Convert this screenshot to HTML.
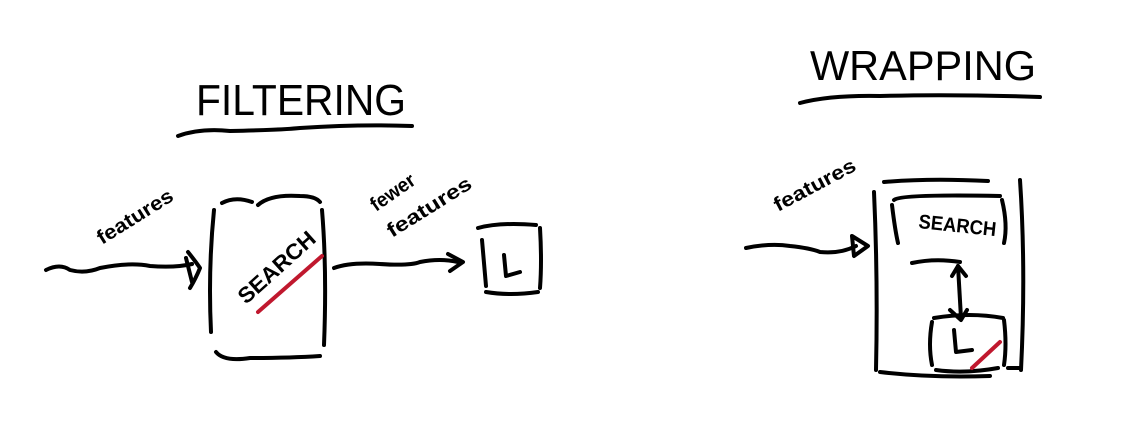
<!DOCTYPE html>
<html><head><meta charset="utf-8"><style>
html,body{margin:0;padding:0;background:#fff;}
svg{display:block}
text{font-family:"Liberation Sans",sans-serif;fill:#000;}
</style></head><body>
<svg width="1122" height="432" viewBox="0 0 1122 432" xmlns="http://www.w3.org/2000/svg">
<g fill="none" stroke="#000" stroke-width="4" stroke-linecap="round" stroke-linejoin="round">
<path d="M178 136 Q200 128 230 131 Q280 130 300 128 Q360 124 412 126"/>
<path d="M800 103 Q830 95 880 96 Q950 94 1040 97"/>
<path d="M46 270 Q60 263 70 270 Q85 274 100 268 Q130 262 150 266 Q175 268 192 264"/>
<path d="M188 252 Q196 262 200 268 Q196 278 190 288"/>
<path d="M186 258 L192 282"/>
<path d="M214 210 Q208 270 211 332"/>
<path d="M222 203 Q235 196 252 202"/>
<path d="M258 205 Q270 194 300 196 Q315 196 320 202"/>
<path d="M322 210 Q327 270 324 345"/>
<path d="M216 352 Q224 362 250 358 Q290 358 320 356"/>
<path d="M334 268 Q350 262 380 264 Q410 266 420 262 Q440 258 458 262"/>
<path d="M448 254 L463 262 L450 271"/>
<path d="M478 228 Q500 222 536 225"/>
<path d="M482 240 L486 286"/>
<path d="M540 228 Q542 262 540 288"/>
<path d="M486 292 Q510 296 538 292"/>
<path d="M504 255 L506 276 L520 272"/>
<path d="M746 248 Q770 243 790 246 Q810 248 820 252 Q840 254 856 246"/>
<path d="M852 236 L868 246 L854 256 Z"/>
<path d="M874 192 Q878 280 876 370"/>
<path d="M884 182 Q930 178 988 181"/>
<path d="M1020 180 Q1026 270 1021 370"/>
<path d="M880 372 Q930 378 990 376"/>
<path d="M1008 368 L1020 368"/>
<path d="M894 200 Q900 194 1000 196"/>
<path d="M892 205 Q895 230 898 243"/>
<path d="M1002 200 Q1008 225 1004 243"/>
<path d="M912 263 Q935 258 960 262"/>
<path d="M958 266 L961 318"/>
<path d="M952 276 L958 266 L966 276"/>
<path d="M950 310 L961 320 L967 310"/>
<path d="M932 322 Q928 345 932 365"/>
<path d="M934 318 Q970 312 1003 318"/>
<path d="M1004 320 Q1007 345 1004 365"/>
<path d="M936 370 Q965 374 998 368"/>
<path d="M954 330 L956 352 L972 350"/>
</g>
<g stroke="#c0182e" stroke-width="4" stroke-linecap="round" fill="none">
<path d="M258 312 L322 256"/>
<path d="M972 368 L1000 342"/>
</g>
<text x="196" y="115" font-size="44" textLength="210" lengthAdjust="spacingAndGlyphs">FILTERING</text>
<text x="810" y="80" font-size="42" textLength="226" lengthAdjust="spacingAndGlyphs">WRAPPING</text>
<text transform="translate(102 245) rotate(-32)" font-size="20" font-weight="bold" textLength="86" lengthAdjust="spacingAndGlyphs">features</text>
<text transform="translate(246 305) rotate(-42)" font-size="22" font-weight="bold" textLength="96" lengthAdjust="spacingAndGlyphs">SEARCH</text>
<text transform="translate(376 212) rotate(-35)" font-size="20" font-weight="bold" textLength="50" lengthAdjust="spacingAndGlyphs">fewer</text>
<text transform="translate(392 238) rotate(-32)" font-size="20" font-weight="bold" textLength="96" lengthAdjust="spacingAndGlyphs">features</text>
<text transform="translate(778 212) rotate(-28)" font-size="20" font-weight="bold" textLength="90" lengthAdjust="spacingAndGlyphs">features</text>
<text transform="translate(918 228) rotate(6)" font-size="20" font-weight="bold" textLength="78" lengthAdjust="spacingAndGlyphs">SEARCH</text>
</svg>
</body></html>
